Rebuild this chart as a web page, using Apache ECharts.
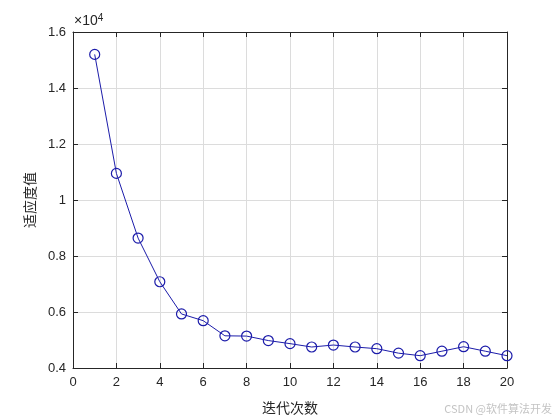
<!DOCTYPE html>
<html>
<head>
<meta charset="utf-8">
<script src="https://cdn.jsdelivr.net/npm/echarts@6/dist/echarts.min.js"></script>
<style>html,body{margin:0;padding:0;background:#fff}#c{width:560px;height:420px}</style>
</head>
<body>
<div id="c"></div>
<script>
// Data
var iterations = [1,2,3,4,5,6,7,8,9,10,11,12,13,14,15,16,17,18,19,20];
var fitness = [15200,10950,8640,7080,5930,5690,5150,5140,4980,4870,4750,4820,4750,4690,4530,4440,4600,4760,4600,4440];
var xTicks = [0,2,4,6,8,10,12,14,16,18,20];
var yTicks = [4000,6000,8000,10000,12000,14000,16000];
var xLabel = '迭代次数';
var yLabel = '适应度值';
var watermark = 'CSDN @软件算法开发';

var axisColor = '#262626';
var lineColor = '#1c1caa';
var font = 'Liberation Sans, Arial, sans-serif';

var chart = echarts.init(document.getElementById('c'), null, {renderer:'canvas'});
var points = iterations.map(function(x,i){return [x, fitness[i]];});

var baseX = {
  type:'value', min:xTicks[0], max:xTicks[xTicks.length-1], interval:2,
  axisLine:{show:true, onZero:false, lineStyle:{color:axisColor, width:1}},
  axisTick:{show:true, inside:true, length:5, lineStyle:{color:axisColor}},
  splitLine:{show:false}
};
var baseY = {
  type:'value', min:yTicks[0], max:yTicks[yTicks.length-1], interval:2000,
  axisLine:{show:true, onZero:false, lineStyle:{color:axisColor, width:1}},
  axisTick:{show:true, inside:true, length:5, lineStyle:{color:axisColor}},
  splitLine:{show:false}
};

chart.setOption({
  animation:false,
  backgroundColor:'#ffffff',
  grid:{left:73, right:53, top:32, bottom:47, containLabel:false},
  xAxis:[
    Object.assign({}, baseX, {
      position:'bottom',
      axisLabel:{show:true, color:axisColor, fontSize:13, fontFamily:font, margin:8},
      splitLine:{show:true, lineStyle:{color:'#dcdcdc', width:1}},
      name:xLabel, nameLocation:'middle', nameGap:33,
      nameTextStyle:{color:axisColor, fontSize:14, fontFamily:'Noto Sans CJK SC'}
    }),
    Object.assign({}, baseX, {position:'top', axisLabel:{show:false}})
  ],
  yAxis:[
    Object.assign({}, baseY, {
      position:'left',
      axisLabel:{show:true, color:axisColor, fontSize:13, fontFamily:font, margin:7,
        formatter:function(v){return String(+(v/10000).toFixed(1));}},
      splitLine:{show:true, lineStyle:{color:'#dcdcdc', width:1}},
      name:yLabel, nameLocation:'middle', nameGap:36, nameRotate:90,
      nameTextStyle:{color:axisColor, fontSize:14, fontFamily:'Noto Sans CJK SC'}
    }),
    Object.assign({}, baseY, {position:'right', axisLabel:{show:false}})
  ],
  series:[{
    type:'line',
    data:points,
    xAxisIndex:0, yAxisIndex:0,
    symbol:'circle', symbolSize:10, showAllSymbol:true,
    lineStyle:{color:lineColor, width:1},
    itemStyle:{color:'rgba(255,255,255,0)', borderColor:lineColor, borderWidth:1.2},
    z:5
  }],
  graphic:[
    {type:'text', left:74, top:13, style:{
      rich:{
        a:{fontSize:14, fontFamily:font, fill:axisColor},
        b:{fontSize:10, fontFamily:font, fill:axisColor, verticalAlign:'top', padding:[0,0,7,0]}
      },
      text:'{a|×10}{b|4}'
    }},
    {type:'text', right:8, bottom:6, style:{text:watermark, fontSize:11, fontFamily:'Noto Sans CJK SC', fill:'#c4c4c4'}}
  ]
});
</script>
</body>
</html>
